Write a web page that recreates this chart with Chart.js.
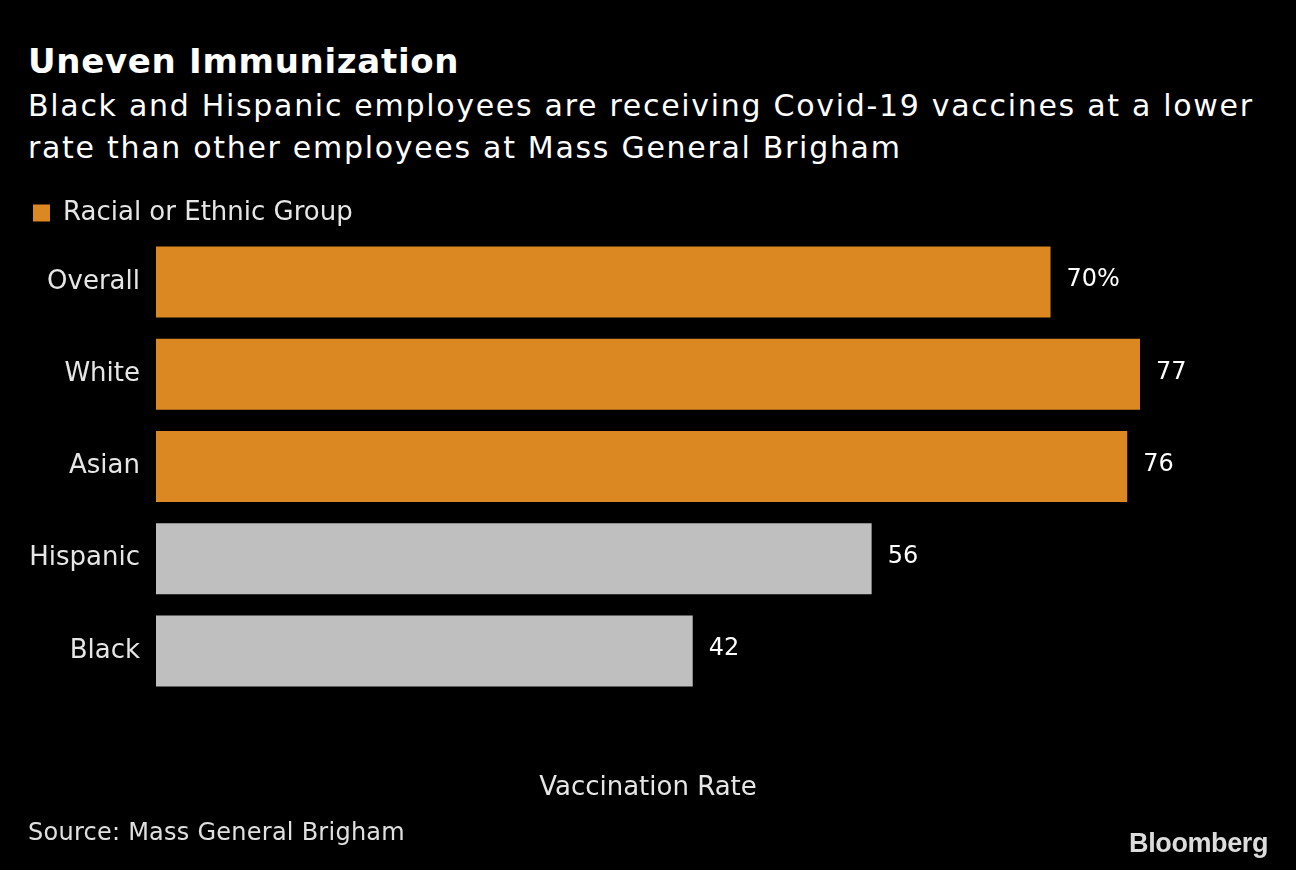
<!DOCTYPE html>
<html>
<head>
<meta charset="utf-8">
<script src="https://cdn.jsdelivr.net/npm/chart.js@4"></script>
<style>
  html, body { margin: 0; padding: 0; background: #000; }
  body { width: 1296px; height: 870px; position: relative; overflow: hidden; font-family: 'DejaVu Sans', sans-serif; color: #e6e6e6; }
  #wrap { position: absolute; left: 0; top: 0; width: 1296px; height: 870px; }
  .title { position: absolute; left: 28px; top: 41px; font-size: 34px; font-weight: bold; letter-spacing: 0.7px; color: #fff; }
  .subtitle { position: absolute; left: 28px; top: 85px; font-size: 30px; line-height: 42px; letter-spacing: 1.7px; color: #fff; }
  .source { position: absolute; left: 28px; top: 818px; font-size: 24px; letter-spacing: 0.25px; color: #e0e0e0; }
  .logo { position: absolute; right: 28px; top: 828px; font-family: 'Liberation Sans', Arial, sans-serif; font-weight: bold; font-size: 27px; letter-spacing: -0.4px; color: #dcdcdc; }
</style>
</head>
<body>
<div class="title">Uneven Immunization</div>
<div class="subtitle">Black and Hispanic employees are receiving Covid-19 vaccines at a lower<br>rate than other employees at Mass General Brigham</div>
<div id="wrap"><canvas id="myChart"></canvas></div>
<div class="source">Source: Mass General Brigham</div>
<div class="logo">Bloomberg</div>
<script>
(() => {
	'use strict'

	const groups = ['Overall', 'White', 'Asian', 'Hispanic', 'Black']
	const rates = [70, 77, 76, 56, 42]
	const barColors = ['#db8823', '#db8823', '#db8823', '#bfbfbf', '#bfbfbf']

	// value labels to the right of each bar
	const valueLabels = {
		id: 'valueLabels',
		afterDatasetsDraw(chart) {
			const ctx = chart.ctx
			const meta = chart.getDatasetMeta(0)
			ctx.save()
			ctx.font = '24px "DejaVu Sans"'
			ctx.fillStyle = '#ffffff'
			ctx.textAlign = 'left'
			ctx.textBaseline = 'middle'
			meta.data.forEach((bar, i) => {
				const txt = i === 0 ? rates[i] + '%' : String(rates[i])
				ctx.fillText(txt, bar.x + 16, bar.y - 2)
			})
			ctx.restore()
		}
	}

	const ctx = document.getElementById('myChart')
	// eslint-disable-next-line no-unused-vars
	const myChart = new Chart(ctx, {
		type: 'bar',
		data: {
			labels: groups,
			datasets: [{
				label: 'Racial or Ethnic Group',
				data: rates,
				backgroundColor: barColors,
				borderWidth: 0,
				barPercentage: 0.77,
				categoryPercentage: 1
			}]
		},
		options: {
			indexAxis: 'y',
			responsive: true,
			maintainAspectRatio: false,
			animation: false,
			layout: {
				padding: { left: 20, right: 156, top: 187, bottom: 66 }
			},
			scales: {
				x: {
					min: 0,
					max: 77,
					grid: { display: false },
					border: { display: false },
					ticks: { display: false },
					title: {
						display: true,
						text: 'Vaccination Rate',
						color: '#e6e6e6',
						font: { family: 'DejaVu Sans', size: 26 },
						padding: 0
					},
					afterFit(scale) { scale.height = 107 }
				},
				y: {
					grid: { display: false },
					border: { display: false },
					ticks: {
						color: '#e6e6e6',
						font: { family: 'DejaVu Sans', size: 26 },
						padding: 8
					},
					afterFit(scale) { scale.width = 136 }
				}
			},
			plugins: {
				legend: {
					display: true,
					position: 'top',
					align: 'start',
					labels: {
						boxWidth: 17,
						boxHeight: 17,
						padding: 13,
						color: '#e6e6e6',
						font: { family: 'DejaVu Sans', size: 26 },
						generateLabels: () => [{
							text: 'Racial or Ethnic Group',
							fillStyle: barColors[0],
							strokeStyle: barColors[0],
							lineWidth: 0,
							fontColor: '#e6e6e6',
							datasetIndex: 0
						}]
					}
				},
				tooltip: { enabled: false }
			}
		},
		plugins: [valueLabels]
	})
})()
</script>
</body>
</html>
